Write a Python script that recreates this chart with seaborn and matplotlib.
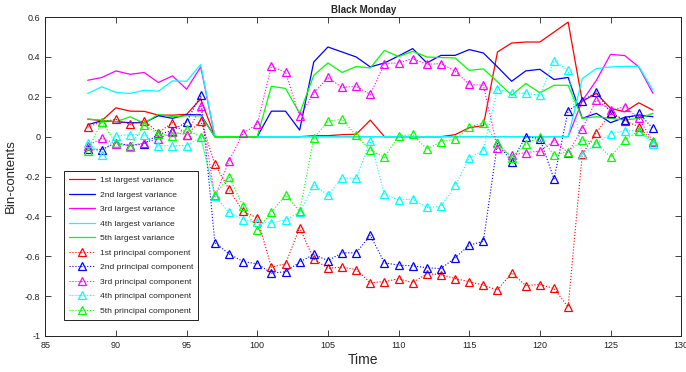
import numpy as np
import pandas as pd
import matplotlib
matplotlib.use("Agg")
import matplotlib.pyplot as plt
from matplotlib.ticker import FuncFormatter
import seaborn as sns

# Data
time = list(range(88, 129))

var1 = [0.088, 0.08, 0.145, 0.128, 0.127, 0.108, 0.108, 0.112, 0.19, 0, 0, 0, 0, 0, 0, 0,
        0.005, 0.005, 0.01, 0.012, 0.083, 0, 0, 0, 0, 0, 0.01, 0.045, 0.055, 0.425, 0.47,
        0.475, 0.475, 0.525, 0.575, 0.178, 0.217, 0.142, 0.125, 0.17, 0.133]
var2 = [0.06, 0.08, 0.075, 0.07, 0.07, 0.105, 0.092, 0.11, 0.11, 0, 0, 0, 0, 0.128, 0.128,
        0.033, 0.375, 0.45, 0.425, 0.4, 0.35, 0.37, 0.405, 0.442, 0.37, 0.408, 0.408, 0.437,
        0.42, 0.35, 0.278, 0.33, 0.338, 0.287, 0.297, 0.092, 0.117, 0.07, 0.097, 0.108, 0.1]
var3 = [0.283, 0.297, 0.33, 0.313, 0.322, 0.272, 0.305, 0.238, 0.35, 0, 0, 0, 0, 0, 0, 0,
        0, 0, 0, 0, 0, 0, 0, 0, 0, 0, 0, 0, 0, 0, 0, 0, 0, 0, 0,
        0.18, 0.283, 0.413, 0.407, 0.35, 0.217]
var4 = [0.217, 0.25, 0.222, 0.217, 0.233, 0.228, 0.28, 0.278, 0.362, 0, 0, 0, 0, 0, 0, 0,
        0, 0, 0, 0, 0, 0, 0, 0, 0, 0, 0, 0, 0, 0, 0, 0, 0, 0, 0,
        0.292, 0.342, 0.35, 0.353, 0.353, 0.233]
var5 = [0.088, 0.083, 0.075, 0.1, 0.067, 0.112, 0.1, 0.105, 0.105, 0, 0, 0, 0, 0.253, 0.242,
        0.117, 0.308, 0.37, 0.322, 0.352, 0.345, 0.433, 0.402, 0.428, 0.4, 0.397, 0.395,
        0.333, 0.34, 0.275, 0.208, 0.267, 0.22, 0.258, 0.258, 0.092, 0.1, 0.092, 0.083,
        0.092, 0.117]

pc1 = [0.048, 0.075, 0.087, 0.062, 0.08, 0.02, 0.07, 0.01, 0.08, -0.138, -0.265, -0.375,
       -0.408, -0.655, -0.638, -0.457, -0.615, -0.66, -0.655, -0.667, -0.733, -0.728, -0.713,
       -0.733, -0.688, -0.692, -0.712, -0.728, -0.745, -0.77, -0.683, -0.747, -0.742, -0.762,
       -0.855, -0.088, 0.02, 0.118, 0.08, 0.05, -0.028]
pc2 = [-0.06, -0.065, -0.03, -0.045, -0.035, 0.012, 0.03, 0.075, 0.208, -0.532, -0.588,
       -0.627, -0.638, -0.685, -0.678, -0.63, -0.59, -0.622, -0.583, -0.583, -0.495, -0.633,
       -0.645, -0.648, -0.658, -0.662, -0.608, -0.545, -0.525, -0.033, -0.125, 0.0, -0.01,
       -0.212, 0.13, 0.178, 0.225, 0.12, 0.083, 0.117, 0.042]
pc3 = [-0.045, -0.008, -0.035, -0.045, -0.032, -0.01, 0.022, 0.01, 0.152, -0.3, -0.122,
       0.017, 0.063, 0.353, 0.323, 0.102, 0.218, 0.297, 0.247, 0.253, 0.212, 0.367, 0.37,
       0.392, 0.363, 0.367, 0.328, 0.262, 0.258, -0.058, -0.092, -0.08, -0.072, -0.02,
       -0.08, 0.04, 0.183, 0.133, 0.15, 0.092, -0.025]
pc4 = [-0.03, -0.09, 0.005, 0.01, 0.01, -0.045, -0.045, -0.045, -0.002, -0.3, -0.38, -0.417,
       -0.43, -0.433, -0.418, -0.38, -0.243, -0.293, -0.208, -0.208, -0.022, -0.29, -0.317,
       -0.314, -0.355, -0.35, -0.245, -0.108, -0.067, 0.238, 0.22, 0.217, 0.208, 0.38, 0.333,
       -0.092, -0.033, 0.015, 0.03, 0.03, -0.038]
pc5 = [-0.07, 0.075, -0.033, -0.05, 0.058, 0.015, 0.002, 0.038, -0.002, -0.292, -0.2, -0.35,
       -0.467, -0.38, -0.292, -0.375, -0.008, 0.078, 0.087, 0.006, -0.067, -0.104, 0.004,
       0.011, -0.063, -0.025, -0.013, 0.047, 0.07, -0.03, -0.108, -0.038, 0.0, -0.092, -0.075,
       -0.017, -0.032, -0.103, -0.017, 0.03, -0.02]

colors = ['#ff0000', '#0000ff', '#ff00ff', '#00ffff', '#00ff00']
ordinals = ['1st', '2nd', '3rd', '4th', '5th']
variances = [var1, var2, var3, var4, var5]
components = [pc1, pc2, pc3, pc4, pc5]

sns.set_style("ticks")
plt.rcParams['font.family'] = ['Liberation Sans', 'DejaVu Sans']

fig = plt.figure(figsize=(6.86, 3.72), dpi=100)
ax = fig.add_axes([0.066, 0.097, 0.927, 0.857])

# Largest-variance series (solid)
for vals, c, o in zip(variances, colors, ordinals):
    sns.lineplot(x=time, y=vals, ax=ax, color=c, linewidth=0.9,
                 label=o + ' largest variance')

# Principal components (dotted, open triangles)
for vals, c, o in zip(components, colors, ordinals):
    sns.lineplot(x=time, y=vals, ax=ax, color=c, linewidth=0.8, linestyle=':',
                 marker='^', markersize=6, markerfacecolor='none',
                 markeredgecolor=c, markeredgewidth=0.9,
                 label=o + ' principal component')

ax.set_xlim(85, 130)
ax.set_ylim(-1, 0.6)
ax.set_xticks(np.arange(85, 131, 5))
ax.set_yticks(np.arange(-1, 0.61, 0.2))
ax.yaxis.set_major_formatter(FuncFormatter(lambda v, p: '%g' % (round(v, 1) + 0.0)))
ax.tick_params(direction='in', top=True, right=True, length=4, width=0.6,
               labelsize=6.5, colors='#222222')
for s in ax.spines.values():
    s.set_linewidth(0.7)
    s.set_color('#222222')

ax.set_title('Black Monday', fontsize=7, fontweight='bold', pad=3)
ax.set_xlabel('Time', fontsize=10, labelpad=2)
ax.set_ylabel('Bin-contents', fontsize=9.5, labelpad=6)

leg = ax.legend(loc='lower left', bbox_to_anchor=(0.03, 0.05), borderaxespad=0,
                fontsize=6.1, frameon=True, fancybox=False, framealpha=1,
                edgecolor='#222222', handlelength=3.0, handletextpad=0.6,
                labelspacing=0.78, borderpad=0.6)
leg.get_frame().set_linewidth(0.7)

fig.savefig('out.png', dpi=100)
